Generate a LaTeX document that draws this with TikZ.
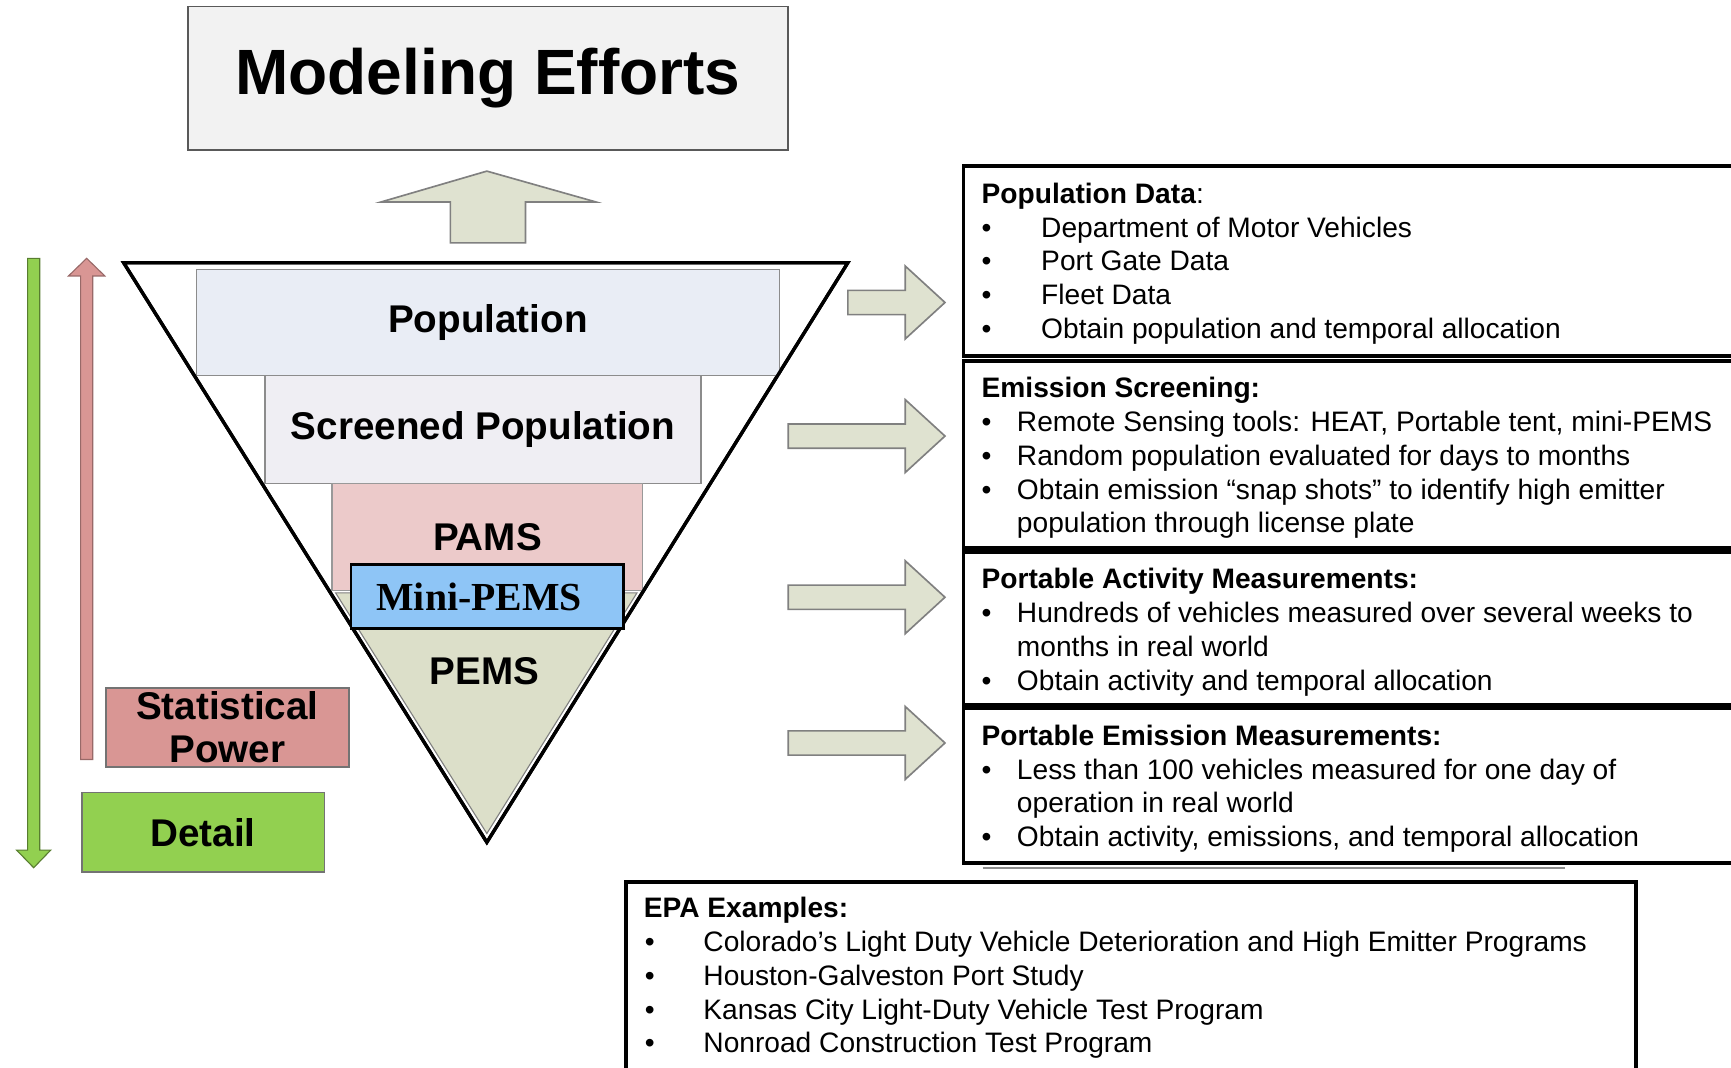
\documentclass[tikz,border=0pt]{standalone}
\usepackage{fontspec}
\setmainfont{Liberation Sans}
\newfontfamily\miniserif{Liberation Serif}

\definecolor{popblue}{HTML}{E9EDF5}
\definecolor{scrgray}{HTML}{EFEEF3}
\definecolor{pamspink}{HTML}{ECCACA}
\definecolor{pemsolive}{HTML}{DCDFC9}
\definecolor{minicyan}{HTML}{8EC5F6}
\definecolor{statred}{HTML}{D99694}
\definecolor{detgreen}{HTML}{92D050}
\definecolor{arrowolive}{HTML}{DFE2D0}

\newcommand{\bul}[1]{\makebox[#1][l]{\textbullet}}

\begin{document}
\begin{tikzpicture}[x=1pt, y=-1pt,
    layer/.style={draw=black!45, line width=1.5pt, inner sep=0pt, font=\fontsize{35}{39}\selectfont\bfseries},
    sidebox/.style={draw=black!55, line width=1.5pt, inner sep=0pt, align=center, font=\fontsize{35}{39}\selectfont\bfseries},
    blockarrow/.style={draw=black!50, line width=1.5pt, fill=arrowolive},
    infobox/.style={draw, line width=3.5pt, anchor=north west, inner sep=0pt},
    boxtext/.style={anchor=base west, inner sep=0pt, font=\fontsize{25.5}{30.7}\selectfont}]
    \useasboundingbox (0,0) rectangle (1568,967);
    \clip (0,0) rectangle (1568,967);

    \node[draw=black!65, line width=1.5pt, fill=black!5, minimum width=544, minimum height=130,
          font=\fontsize{58}{60}\selectfont\bfseries] (model) at (442,71) {Modeling Efforts};

    \draw[blockarrow] (408,220) -- (408,183) -- (345,183) -- (441,155) -- (540,183) -- (476,183) -- (476,220) -- cycle;

    % the funnel
    \draw[line width=3pt, fill=white] (112,238) -- (768,238) -- (441,763) -- cycle;
    \node[layer, fill=popblue, minimum width=528, minimum height=96] (pop) at (442,292) {Population};
    \node[layer, fill=scrgray, minimum width=395, minimum height=98] (scr) at (437.5,389) {Screened Population};
    \node[layer, fill=pamspink, draw=black!40, minimum width=281, minimum height=97] (pams) at (441.5,486.5) {PAMS};
    \draw[draw=black!50, line width=1pt, fill=pemsolive] (304,537) -- (577,537) -- (441,755) -- cycle;
    \node[layer, draw=none] (pems) at (439,608) {PEMS};
    \draw[line width=3pt] (112,238) -- (768,238) -- (441,763) -- cycle;
    \node[draw, line width=2.5pt, fill=minicyan, minimum width=247, minimum height=58] (mini) at (441.5,540) {};
    \node[font=\fontsize{36}{38}\miniserif\bfseries, inner sep=0pt] (mini-t) at (434,541) {Mini-PEMS};

    % detail / power
    \draw[fill=detgreen, draw=detgreen!60!black, line width=1pt]
        (25,234) -- (36,234) -- (36,770) -- (46,770) -- (30.5,786) -- (15,770) -- (25,770) -- cycle;
    \draw[fill=statred, draw=statred!70!black, line width=1pt]
        (73,688) -- (84,688) -- (84,250) -- (95,250) -- (78.5,234) -- (62,250) -- (73,250) -- cycle;
    \node[sidebox, fill=statred, minimum width=220, minimum height=72] (stat) at (206,659) {Statistical\\Power};
    \node[sidebox, fill=detgreen, minimum width=220, minimum height=72] (detail) at (184,754) {Detail};

    \foreach \xs/\yc in {768/274, 714/395, 714/541, 714/673}
        \draw[blockarrow] (\xs,\yc-11) -- (820,\yc-11) -- (820,\yc-33) -- (856,\yc) -- (820,\yc+33) -- (820,\yc+11) -- (\xs,\yc+11) -- cycle;

    % info boxes
    \node[infobox, minimum width=760, minimum height=172] (popdata) at (871,149) {};
    \node[infobox, minimum width=760, minimum height=170] (screening) at (871,325) {};
    \node[infobox, minimum width=760, minimum height=139] (activity) at (871,498) {};
    \node[infobox, minimum width=760, minimum height=140] (emission) at (871,640) {};
    \draw[black!45, line width=2pt] (890,786) -- (1418,786);
    \node[infobox, minimum width=915, minimum height=190] (epa) at (565,797) {};

    \node[boxtext] (popdata-h) at (889,184) {\textbf{Population Data}:};
    \foreach \t [count=\i] in {Department of Motor Vehicles, Port Gate Data, Fleet Data,
                               Obtain population and temporal allocation}
        \node[boxtext] (popdata-\i) at (889,184+30.7*\i) {\bul{54pt}\t};

    \node[boxtext] (screening-h) at (889,360) {\textbf{Emission Screening:}};
    \foreach \t [count=\i] in {{\bul{32pt}Remote Sensing tools: HEAT, Portable tent, mini-PEMS},
                               {\bul{32pt}Random population evaluated for days to months},
                               {\bul{32pt}Obtain emission “snap shots” to identify high emitter},
                               {\hspace*{32pt}population through license plate}}
        \node[boxtext] (screening-\i) at (889,360+30.7*\i) {\t};

    \node[boxtext] (activity-h) at (889,533) {\textbf{Portable Activity Measurements:}};
    \foreach \t [count=\i] in {{\bul{32pt}Hundreds of vehicles measured over several weeks to},
                               {\hspace*{32pt}months in real world},
                               {\bul{32pt}Obtain activity and temporal allocation}}
        \node[boxtext] (activity-\i) at (889,533+30.7*\i) {\t};

    \node[boxtext] (emission-h) at (889,675) {\textbf{Portable Emission Measurements:}};
    \foreach \t [count=\i] in {{\bul{32pt}Less than 100 vehicles measured for one day of},
                               {\hspace*{32pt}operation in real world},
                               {\bul{32pt}Obtain activity, emissions, and temporal allocation}}
        \node[boxtext] (emission-\i) at (889,675+30.7*\i) {\t};

    \node[boxtext] (epa-h) at (583,831) {\textbf{EPA Examples:}};
    \foreach \t [count=\i] in {Colorado’s Light Duty Vehicle Deterioration and High Emitter Programs,
                               Houston-Galveston Port Study,
                               Kansas City Light-Duty Vehicle Test Program,
                               Nonroad Construction Test Program}
        \node[boxtext] (epa-\i) at (584,831+30.7*\i) {\bul{53pt}\t};
\end{tikzpicture}
\end{document}
